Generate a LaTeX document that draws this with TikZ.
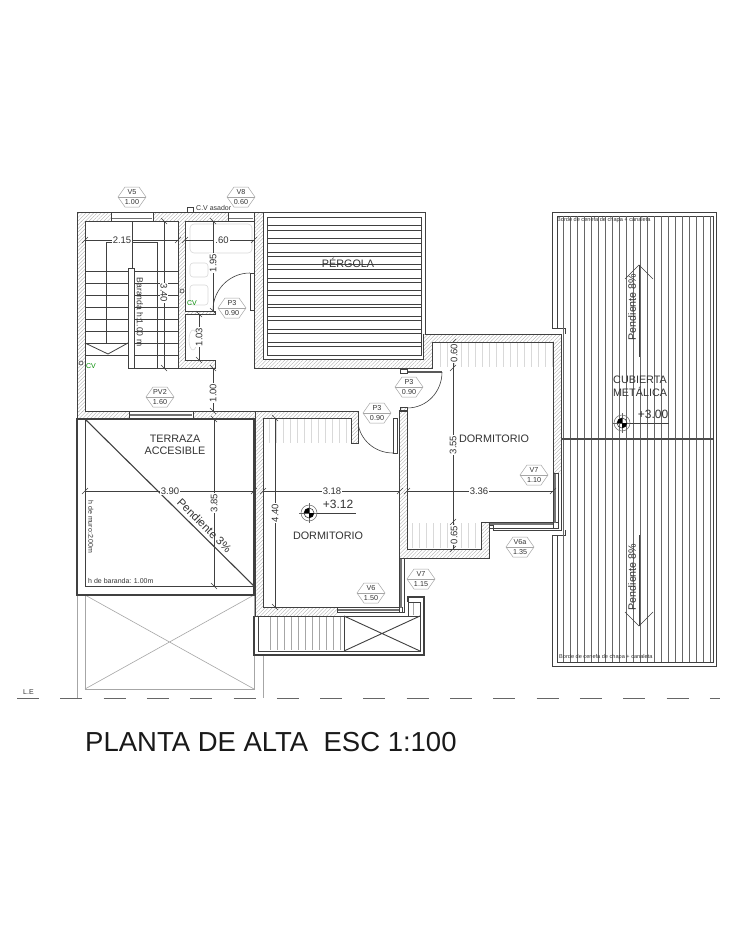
\documentclass[tikz,border=0pt]{standalone}
\usepackage{fontspec}
\setmainfont{Liberation Sans}
\usetikzlibrary{patterns.meta}
\definecolor{ink}{gray}{0.25}
\definecolor{txt}{gray}{0.2}
\tikzset{
  hatchfill/.style={pattern={Lines[angle=45,distance=2.6pt,line width=.35pt]},pattern color=black!32},
  wall/.style={draw=ink,line width=.9pt},
  heavy/.style={draw=ink,line width=1.1pt},
  thinl/.style={draw=ink,line width=.6pt},
  pale/.style={draw=black!15,line width=.6pt},
  ground/.style={draw=black!35,line width=.6pt},
  dimline/.style={draw=ink,line width=.6pt},
  dimtext/.style={font=\fontsize{9.5}{10}\selectfont,text=txt,fill=white,inner sep=1pt},
  hexline/.style={draw=black!35,line width=.5pt},
  hextext/.style={font=\fontsize{7.2}{7.5}\selectfont,text=txt,inner sep=0pt},
  roomtext/.style={font=\fontsize{10.8}{11}\selectfont,text=txt,inner sep=0pt,align=center},
  smalltext/.style={font=\fontsize{7}{8}\selectfont,text=txt,inner sep=0pt},
  tinytext/.style={font=\fontsize{5.6}{6}\selectfont,text=txt,inner sep=0pt},
  winbar/.style={draw=black!55,line width=1.8pt},
}
\newcommand{\hatchrect}[2]{\fill[hatchfill] #1 rectangle #2;}
\newcommand{\hexlab}[5]{%
  \draw[hexline] (#2-14,#3) -- (#2-7,#3-10) -- (#2+7,#3-10) -- (#2+14,#3) -- (#2+7,#3+10) -- (#2-7,#3+10) -- cycle;
  \draw[hexline] (#2-14,#3) -- (#2+14,#3);
  \node[hextext] (#1a) at (#2,#3-5) {#4};
  \node[hextext] (#1b) at (#2,#3+5) {#5};}
% dimh{y}{x1}{x2}{label}{labelx}
\newcommand{\dimh}[5]{%
  \draw[dimline] (#2,#1) -- (#3,#1);
  \draw[dimline] (#2-3,#1+3) -- (#2+3,#1-3);
  \draw[dimline] (#3-3,#1+3) -- (#3+3,#1-3);
  \node[dimtext] at (#5,#1) {#4};}
% dimv{x}{y1}{y2}{label}{labely}{rot}
\newcommand{\dimv}[6]{%
  \draw[dimline] (#1,#2) -- (#1,#3);
  \draw[dimline] (#1-3,#2-3) -- (#1+3,#2+3);
  \draw[dimline] (#1-3,#3-3) -- (#1+3,#3+3);
  \node[dimtext,rotate=#6] at (#1,#5) {#4};}
\newcommand{\levelmark}[2]{%
  \begin{scope}[shift={(#1,#2)}]
  \draw[black!60,line width=.5pt] (0,0) circle[radius=8];
  \draw[black!60,line width=.4pt] (-10,0) -- (10,0) (0,-10) -- (0,10);
  \draw[ink,line width=.6pt] (0,0) circle[radius=5];
  \fill[black] (0,0) -- (5,0) .. controls (5,2.8) and (2.8,5) .. (0,5) -- cycle;
  \fill[black] (0,0) -- (-5,0) .. controls (-5,-2.8) and (-2.8,-5) .. (0,-5) -- cycle;
  \end{scope}}
\begin{document}
\begin{tikzpicture}[x=1pt,y=-1pt]
\useasboundingbox (0,0) rectangle (734,950);
\fill[white] (0,0) rectangle (734,950);

% ---------- pale fixtures and stripes
\foreach \x in {269,276,...,348} {\draw[pale] (\x,419) -- (\x,443);}
\foreach \x in {440,447,...,552} {\draw[pale] (\x,343) -- (\x,367);}
\foreach \x in {412,419,...,480} {\draw[pale] (\x,523) -- (\x,548);}
\draw[pale,rounded corners=4pt] (190,224) rectangle (252,253);
\draw[pale,rounded corners=3pt] (190,263) rectangle (208,277);
\draw[pale,rounded corners=3pt] (190,285) rectangle (208,305);
\draw[pale] (193,340) ellipse[x radius=4,y radius=10];

% ---------- hatching
\hatchrect{(77,212)}{(111,221)}
\hatchrect{(153,212)}{(228,221)}
\hatchrect{(254,212)}{(263,221)}
\hatchrect{(77,221)}{(85,411)}
\hatchrect{(77,411)}{(129,419)}
\hatchrect{(193,411)}{(255,419)}
\hatchrect{(178,221)}{(185,360)}
\hatchrect{(178,360)}{(215,368)}
\hatchrect{(185,311)}{(215,314)}
\hatchrect{(254,221)}{(263,368)}
\hatchrect{(263,359)}{(432,368)}
\hatchrect{(423,334)}{(561,342)}
\hatchrect{(423,342)}{(432,359)}
\hatchrect{(553,342)}{(561,473)}
\hatchrect{(255,411)}{(358,418)}
\hatchrect{(351,418)}{(358,443)}
\hatchrect{(255,418)}{(263,616)}
\hatchrect{(263,607)}{(337,616)}
\hatchrect{(399,408)}{(407,558)}
\hatchrect{(407,549)}{(489,558)}
\hatchrect{(481,522)}{(489,549)}

% ---------- ground-floor outline below the terrace
\draw[ground] (85,595) rectangle (254,689);
\draw[ground] (85,595) -- (254,689) (254,595) -- (85,689);
\draw[ground] (77,595) -- (77,698);
\draw[ground] (263,655) -- (263,698);

% ---------- terrace
\draw[heavy] (77,419) rectangle (254,595);
\draw[wall] (85,419) rectangle (254,586);
\draw[wall,line width=1.1pt] (85,419) -- (254,586);

% ---------- wall outlines
\draw[wall] (77,419) -- (77,212) -- (425,212) -- (425,334) -- (561,334) -- (561,530) -- (493,530) -- (493,525);
\draw[wall] (85,411) -- (85,221) -- (178,221) -- (178,368) -- (215,368) -- (215,360) -- (185,360) -- (185,314) -- (215,314) -- (215,311) -- (185,311) -- (185,221) -- (254,221) -- (254,368) -- (432,368) -- (432,342) -- (553,342) -- (553,473);
\draw[wall] (263,212) -- (263,359) -- (423,359) -- (423,334);
\draw[wall] (85,411) -- (129,411) (193,411) -- (255,411);
\draw[wall] (255,411) -- (358,411) -- (358,443) -- (351,443) -- (351,418) -- (263,418) -- (263,607) -- (337,607);
\draw[wall] (255,411) -- (255,616);
\draw[wall] (399,558) -- (399,410) -- (407,410) -- (407,549) -- (481,549) -- (481,522) -- (553,522);
\draw[wall] (399,558) -- (489,558) -- (489,525) -- (493,525);

% ---------- windows
\draw[thinl] (111,212) rectangle (153,221);
\draw[winbar] (112,218.5) -- (152,218.5);
\draw[thinl] (228,212) rectangle (254,221);
\draw[winbar] (229,218.5) -- (253,218.5);
\draw[thinl] (129,411) rectangle (193,419);
\draw[winbar] (130,415) -- (192,415);
\draw[thinl] (337,607) rectangle (402,612.5);
\draw[winbar] (338,610) -- (400,610);
\draw[thinl] (399,558) rectangle (404,612.5);
\draw[winbar] (401,559) -- (401,608);
\draw[thinl] (489,522) rectangle (558,528);
\draw[winbar] (490,524) -- (554,524);
\draw[thinl] (553,473) rectangle (558,528);
\draw[winbar] (555,474) -- (555,523);

% ---------- doors
\draw[thinl,fill=white] (250,273) rectangle (254,310);
\draw[thinl] (250,273) .. controls (229.6,273) and (213,289.6) .. (213,310);
\draw[thinl,fill=white] (393,418) rectangle (397,453);
\draw[thinl] (358,423) .. controls (360,440) and (375,453) .. (393,453);
\draw[draw=black!65,line width=1.4pt] (407,372) -- (442,372);
\draw[thinl] (442,372) .. controls (442,391.9) and (426.9,408) .. (407,408);
\draw[thinl] (400,369) rectangle (407,373);
\draw[thinl] (400,407) rectangle (407,411);

% ---------- stairs
\foreach \y in {271,283,295,307,319,331,343,355} {\draw[thinl,line width=.8pt] (85,\y) -- (178,\y);}
\draw[thinl,line width=.8pt] (106,343) -- (106,242) -- (157,242) -- (157,368);
\draw[thinl] (132,221) -- (132,268);
\draw[thinl,line width=.8pt] (85,343) -- (108,354) -- (128,343);
\draw[wall] (128,368) -- (178,368);
\draw[wall,fill=white] (128,268) rectangle (134,368);

% ---------- pergola
\draw[wall] (267,217) rectangle (421,355);
\foreach \y in {225,238,252,264,278,290,304,316,329,342} {\draw[thinl,line width=.9pt] (267,\y) -- (421,\y);}
\foreach \y in {230,243,256,269,282,295,307,320,333,346} {\draw[thinl,line width=.5pt] (267,\y) -- (421,\y);}

% ---------- balcony
\draw[heavy] (254,616) -- (254,655) -- (424,655) -- (424,597) -- (408,597) -- (408,602);
\draw[wall] (254,616) -- (420,616) -- (420,602) -- (408,602) -- (408,616);
\draw[wall] (258,616) -- (258,651) -- (420,651) -- (420,616);
\draw[wall] (344,616) -- (344,651);
\draw[wall] (344,616) -- (420,651) (420,616) -- (344,651);
\foreach \x in {270,277,...,340} {\draw[draw=black!35,line width=.6pt] (\x,617) -- (\x,650);}
\foreach \x in {413} {\draw[draw=black!35,line width=.6pt] (\x,603) -- (\x,615);}

% ---------- metal roof
\draw[wall] (552,328) -- (552,212) -- (716,212) -- (716,666) -- (552,666) -- (552,535);
\draw[thinl] (557,328) -- (557,216) -- (713,216) -- (713,662) -- (557,662) -- (557,535);
\draw[thinl] (552,328) -- (565,328) -- (565,334);
\draw[thinl] (552,535) -- (565,535) -- (565,530);
\foreach \x in {563,570,...,710} {\draw[draw=black!60,line width=.6pt] (\x,216) -- (\x,662);}
\draw[draw=black!70,line width=1.8pt] (561,439) -- (713,439);
\draw[thinl] (639,265) -- (639,357);
\draw[thinl] (625,279) -- (639,265) -- (653,279);
\draw[thinl] (639,535) -- (639,626);
\draw[thinl] (625,612) -- (639,626) -- (653,612);

% ---------- L.E line
\draw[draw=black!60,line width=.7pt,dash pattern=on 22pt off 21.3pt] (17,698) -- (720,698);

% ---------- dimensions
\dimh{240}{85}{178}{2.15}{122}
\dimh{240}{185}{254}{.60}{222}
\dimv{213}{221}{311}{1.95}{263}{90}
\dimv{199}{314}{360}{1.03}{337}{90}
\dimv{213}{368}{411}{1.00}{393}{90}
\dimv{164}{221}{368}{3.40}{293}{-90}
\dimh{491}{85}{254}{3.90}{170}
\dimv{214}{419}{586}{3.85}{503}{90}
\dimh{491}{263}{400}{3.18}{332}
\dimv{275}{418}{607}{4.40}{513}{90}
\dimh{491}{407}{553}{3.36}{479}
\draw[dimline] (453,342) -- (453,549);
\draw[dimline] (450,345) -- (456,339);
\draw[dimline] (450,371) -- (456,365);
\draw[dimline] (450,525) -- (456,519);
\draw[dimline] (450,552) -- (456,546);
\node[dimtext,rotate=90] (d060) at (454,353) {0.60};
\node[dimtext,rotate=90] (d355) at (453,445) {3.55};
\node[dimtext,rotate=90] (d065) at (454,535) {0.65};

% ---------- hexagon tags
\hexlab{va}{132}{197}{V5}{1.00}
\hexlab{vb}{241}{197}{V8}{0.60}
\hexlab{pa}{232}{308}{P3}{0.90}
\hexlab{pv}{160}{397}{PV2}{1.60}
\hexlab{pb}{409}{387}{P3}{0.90}
\hexlab{pc}{377}{413}{P3}{0.90}
\hexlab{vc}{534}{475}{V7}{1.10}
\hexlab{vd}{520}{547}{V6a}{1.35}
\hexlab{ve}{371}{593}{V6}{1.50}
\hexlab{vf}{421}{579}{V7}{1.15}

% ---------- other marks
\draw[thinl] (187,207) rectangle (193,212);
\node[smalltext,anchor=west] (cva) at (196,208) {C.V asador};
\draw[thinl] (182,291) circle[radius=2];
\draw[thinl] (81,363) circle[radius=2];
\node[smalltext,text=green!55!black] (cv1) at (192,303) {CV};
\node[smalltext,text=green!55!black] (cv2) at (91,366) {CV};

% ---------- levels
\levelmark{309}{513}
\draw[thinl] (317,513) -- (356,513);
\node[font=\fontsize{12}{12}\selectfont,text=txt,inner sep=0pt] (l312) at (338,504) {+3.12};
\levelmark{622}{423}
\draw[thinl] (630,423) -- (669,423);
\node[font=\fontsize{12}{12}\selectfont,text=txt,inner sep=0pt] (l300) at (653,414) {+3.00};

% ---------- texts
\node[roomtext] (terr) at (175,445) {TERRAZA\\[1.6pt]ACCESIBLE};
\node[roomtext] (perg) at (348,263) {PÉRGOLA};
\node[roomtext] (dorma) at (328,536) {DORMITORIO};
\node[roomtext] (dormb) at (494,439) {DORMITORIO};
\node[roomtext] (cub) at (640,386.5) {CUBIERTA\\[2pt]METÁLICA};
\node[font=\fontsize{8.6}{9}\selectfont,text=txt,inner sep=0pt,rotate=-90] (bar) at (140,312) {Baranda h:1.00 m};
\node[font=\fontsize{11.4}{12}\selectfont,text=txt,inner sep=0pt,rotate=-44.6] (p3) at (204.5,525.5) {Pendiente 3\%};
\node[smalltext,rotate=-90] (hm) at (91,527) {h de muro:2.00m};
\node[smalltext,anchor=west] (hb) at (88,581) {h de baranda: 1.00m};
\node[font=\fontsize{10.7}{11}\selectfont,text=txt,inner sep=0pt,rotate=90] (p8a) at (632,307) {Pendiente 8\%};
\node[font=\fontsize{10.7}{11}\selectfont,text=txt,inner sep=0pt,rotate=90] (p8b) at (632,577) {Pendiente 8\%};
\node[tinytext,anchor=west] (ba) at (557,220) {Borde de cenefa de chapa + canaleta};
\node[tinytext,anchor=west] (bb) at (559,657) {Borde de cenefa de chapa + canaleta};
\node[smalltext,anchor=west] (le) at (23,692) {L.E};
\node[font=\fontsize{27.5}{28}\selectfont,text=black!90,inner sep=0pt,anchor=west] (title) at (85,742) {PLANTA DE ALTA\ \ ESC 1:100};
\end{tikzpicture}
\end{document}
